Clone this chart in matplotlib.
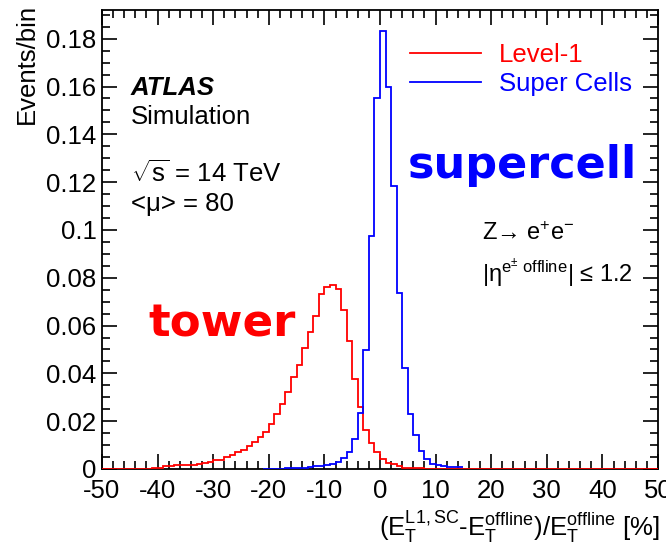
import numpy as np
import matplotlib
matplotlib.use("Agg")
import matplotlib.pyplot as plt
from matplotlib.lines import Line2D
from matplotlib.ticker import MultipleLocator, FuncFormatter

plt.rcParams['font.family'] = ['Liberation Sans', 'DejaVu Sans']
plt.rcParams['mathtext.fontset'] = 'custom'
plt.rcParams['mathtext.rm'] = 'Liberation Sans'
plt.rcParams['mathtext.it'] = 'Liberation Sans:italic'
plt.rcParams['mathtext.bf'] = 'Liberation Sans:bold'
plt.rcParams['axes.unicode_minus'] = False

# ---------------- data ----------------
# Level-1 (tower) histogram, 1% bins from -50 to 50
red_lo, red_hi = -50, 50
red_values = [
    0.0001, 0.0001, 0.0001, 0.0001, 0.0001, 0.0001, 0.0001, 0.0001, 0.0001,   # -50..-42
    0.0004, 0.0006, 0.0011, 0.0013, 0.0018, 0.0018, 0.0018, 0.0018, 0.0019,   # -41..-33
    0.0025, 0.0029, 0.0036, 0.0039, 0.0049, 0.0058, 0.0071, 0.0081, 0.0096,   # -32..-24
    0.0113, 0.0133, 0.0153, 0.0190, 0.0229, 0.0273, 0.0323, 0.0385, 0.0437,   # -23..-15
    0.0508, 0.0573, 0.0639, 0.0731, 0.0762, 0.0771, 0.0752, 0.0667, 0.0536,   # -14..-6
    0.0378, 0.0260, 0.0162, 0.0109, 0.0070, 0.0043, 0.0027, 0.0020, 0.0013,   # -5..3
    0.0006, 0.0006, 0.0006, 0.0006,                                           # 4..7
] + [0.0] * 42                                                                # 8..49

# Super Cells histogram, 1% bins from -21 to 15
blue_lo, blue_hi = -21, 15
blue_values = [
    0.0002, 0.0002, 0.0002, 0.0002, 0.0003, 0.0004, 0.0004, 0.0005,           # -21..-14
    0.0010, 0.0011, 0.0011, 0.0015, 0.0019, 0.0029, 0.0048, 0.0070,           # -13..-6
    0.0125, 0.0234, 0.0497, 0.0974, 0.1550, 0.1833, 0.1598, 0.1185,           # -5..2
    0.0737, 0.0424, 0.0229, 0.0141, 0.0076, 0.0040, 0.0021, 0.0015,           # 3..10
    0.0011, 0.0010, 0.0008, 0.0007,                                           # 11..14
]

series_labels = ["Level-1", "Super Cells"]
x_ticks = [-50, -40, -30, -20, -10, 0, 10, 20, 30, 40, 50]
y_ticks = [0, 0.02, 0.04, 0.06, 0.08, 0.1, 0.12, 0.14, 0.16, 0.18]

RED = (1.0, 0.0, 0.0)
BLUE = (0.0, 0.0, 1.0)
FS = 18.5

fig = plt.figure(figsize=(6.66, 5.54), dpi=100)
ax = fig.add_axes([102/666, 1-469/554, 556/666, 459/554])

red_edges = np.arange(red_lo, red_hi + 1)
blue_edges = np.arange(blue_lo, blue_hi + 1)
ax.stairs(red_values, red_edges, color=RED, lw=1.3, baseline=None, zorder=3)
ax.stairs(blue_values, blue_edges, color=BLUE, lw=1.3, baseline=None, zorder=3)

ax.set_xlim(-50, 50)
ax.set_ylim(0, 0.192)
ax.set_xticks(x_ticks)
ax.set_yticks(y_ticks)
ax.xaxis.set_minor_locator(MultipleLocator(2))
ax.yaxis.set_minor_locator(MultipleLocator(0.005))
ax.yaxis.set_major_formatter(FuncFormatter(lambda v, p: "%g" % round(v, 4)))
ax.xaxis.set_major_formatter(FuncFormatter(lambda v, p: "%d" % v))
ax.tick_params(which='both', direction='in', top=True, right=True, labelsize=FS, width=1.2, colors='black')
ax.tick_params(which='major', length=11)
ax.tick_params(which='minor', length=5.5)
ax.tick_params(axis='x', pad=7)
ax.tick_params(axis='y', pad=4)
for s in ax.spines.values():
    s.set_linewidth(1.3)

# Legend
handles = [Line2D([], [], color=RED, lw=1.3), Line2D([], [], color=BLUE, lw=1.3)]
leg = ax.legend(handles, series_labels, loc='upper left', bbox_to_anchor=((410-102)/556, (469-43)/459),
                frameon=False, fontsize=FS, handlelength=2.75, handletextpad=0.7,
                labelspacing=0.18, borderpad=0, borderaxespad=0)
for t, c in zip(leg.get_texts(), [RED, BLUE]):
    t.set_color(c)

# Annotations
ax.text(0.052, 0.815, "ATLAS", transform=ax.transAxes, fontsize=FS, fontweight='bold', fontstyle='italic', va='baseline')
ax.text(0.052, 0.752, "Simulation", transform=ax.transAxes, fontsize=FS, va='baseline')
ax.text(0.052, 0.625, r"$\sqrt{\mathrm{s}}$ = 14 TeV", transform=ax.transAxes, fontsize=FS, va='baseline')
ax.text(0.052, 0.562, "<μ> = 80", transform=ax.transAxes, fontsize=FS, va='baseline')
ax.text(0.683, 0.499, r"Z→ e$^{+}$e$^{-}$", transform=ax.transAxes, fontsize=17, va='baseline')
ax.text(0.683, 0.407, r"|η$^{\mathrm{e^{\pm}\ offline}}$| ≤ 1.2", transform=ax.transAxes, fontsize=17, va='baseline')

ax.text(0.55, 0.634, "supercell", transform=ax.transAxes, fontsize=32, fontweight='bold',
        family='DejaVu Sans', color=BLUE, va='baseline')
ax.text(0.083, 0.288, "tower", transform=ax.transAxes, fontsize=32.5, fontweight='bold',
        family='DejaVu Sans', color=RED, va='baseline')

fig.text(27/666, 1-4/554, "Events/bin", rotation=90, ha='center', va='top', fontsize=FS)
fig.text(660/666, 1-528/554,
         r"($\mathrm{E_T^{L1,SC}}$-$\mathrm{E_T^{offline}}$)/$\mathrm{E_T^{offline}}$ [%]",
         ha='right', va='center', fontsize=FS)

fig.savefig("out.png", dpi=100)
